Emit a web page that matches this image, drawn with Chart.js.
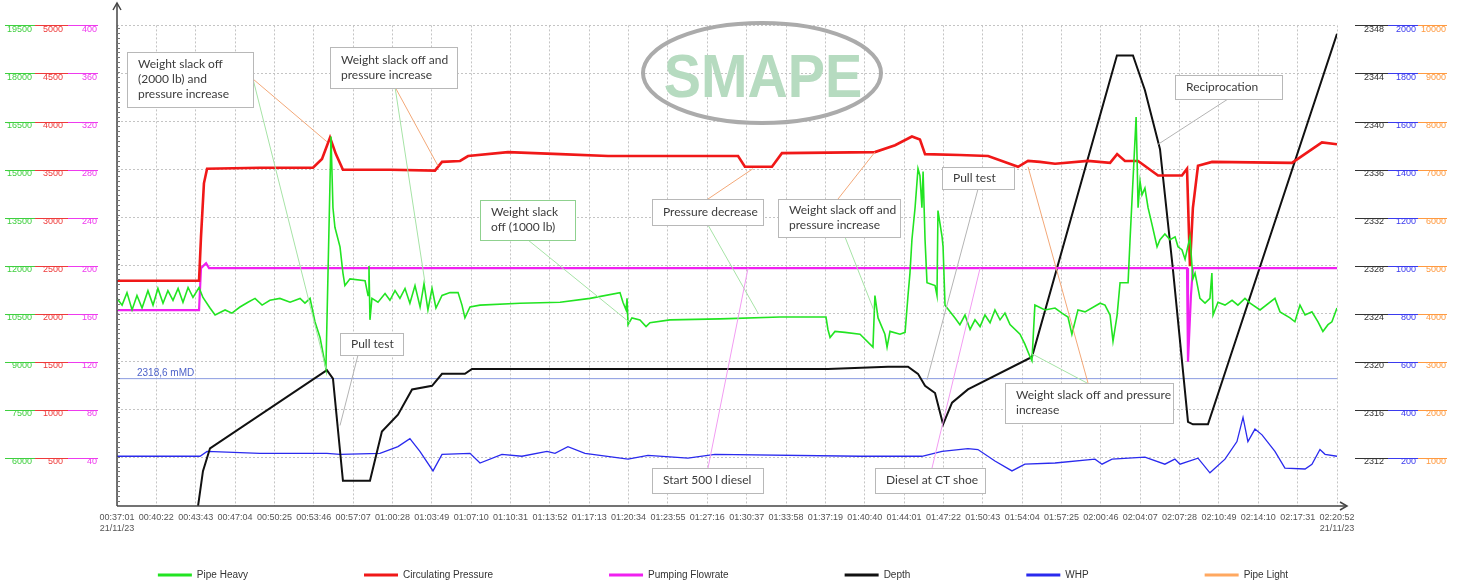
<!DOCTYPE html>
<html><head><meta charset="utf-8">
<script src="https://cdn.jsdelivr.net/npm/chart.js@4.4.1/dist/chart.umd.min.js"></script>
<style>html,body{margin:0;padding:0;background:#fff;}#wrap{width:1460px;height:585px;}</style>
</head><body><div id="wrap"><canvas id="c" width="1460" height="585"></canvas></div>
<script>
// ---------- tick labels ----------
const timeTickLabels = ["00:37:01","00:40:22","00:43:43","00:47:04","00:50:25","00:53:46","00:57:07","01:00:28","01:03:49","01:07:10","01:10:31","01:13:52","01:17:13","01:20:34","01:23:55","01:27:16","01:30:37","01:33:58","01:37:19","01:40:40","01:44:01","01:47:22","01:50:43","01:54:04","01:57:25","02:00:46","02:04:07","02:07:28","02:10:49","02:14:10","02:17:31","02:20:52"];
const dateLabel = "21/11/23";
const pipeHeavyTicks = [6000,7500,9000,10500,12000,13500,15000,16500,18000,19500];
const circPressTicks = [500,1000,1500,2000,2500,3000,3500,4000,4500,5000];
const flowTicks = [40,80,120,160,200,240,280,320,360,400];
const depthTicks = [2312,2316,2320,2324,2328,2332,2336,2340,2344,2348];
const whpTicks = [200,400,600,800,1000,1200,1400,1600,1800,2000];
const pipeLightTicks = [1000,2000,3000,4000,5000,6000,7000,8000,9000,10000];

// ---------- series: [seconds since 00:37:01, value] ----------
const pipeHeavy = [
[0,10980],[26,10770],[51,11160],[77,10620],[102,11070],[128,10680],[158,11220],[184,10770],[209,11290],[235,10830],
[260,11220],[286,10920],[312,11290],[337,10860],[363,11320],[388,11010],[419,11320],[439,11010],[475,10680],[501,10460],
[552,10620],[587,10520],[628,10710],[669,10860],[705,10980],[741,10770],[781,10920],[832,10980],[884,10860],[935,10980],
[960,10830],[986,10980],[1011,10250],[1037,9760],[1067,8790],[1093,16030],[1103,13810],[1113,13200],[1139,12590],[1154,11770],
[1164,11380],[1190,11590],[1267,11530],[1282,11070],[1287,11990],[1292,10310],[1302,10980],[1333,10860],[1369,11130],[1394,10920],
[1420,11220],[1445,10980],[1471,11290],[1496,10830],[1522,11380],[1548,10710],[1568,11440],[1588,10620],[1609,11290],[1629,10680],
[1660,11070],[1701,11160],[1742,11160],[1762,10770],[1777,10370],[1803,10710],[1854,10770],[2058,10830],[2263,10860],[2416,10980],
[2569,11160],[2584,10860],[2600,10620],[2605,10980],[2610,10160],[2630,10370],[2671,10310],[2702,10100],[2722,10220],[2824,10310],
[3080,10340],[3386,10400],[3621,10400],[3631,10010],[3642,9760],[3667,9950],[3718,9920],[3795,9860],[3861,9460],[3871,11070],
[3887,10370],[3922,9860],[3933,9460],[3948,9950],[3999,9860],[4025,9920],[4040,11070],[4050,11770],[4060,12810],[4076,13810],
[4091,15030],[4101,14810],[4111,13810],[4117,14940],[4127,12810],[4137,11470],[4178,11380],[4188,11070],[4193,13720],[4214,12900],
[4219,12590],[4229,10770],[4255,10560],[4280,10370],[4305,10160],[4331,10460],[4357,10010],[4382,10310],[4408,10100],[4433,10460],
[4459,10220],[4484,10620],[4510,10310],[4535,10520],[4561,10160],[4612,9860],[4637,9550],[4663,9160],[4673,9030],[4688,10770],
[4739,10620],[4791,10680],[4826,10520],[4857,10400],[4877,9860],[4908,10620],[4944,10560],[5021,10830],[5046,10770],[5072,10460],
[5087,9640],[5108,10460],[5123,11470],[5164,11470],[5174,12810],[5205,16640],[5210,15330],[5215,13810],[5225,14630],[5235,14210],
[5250,14420],[5266,13810],[5286,13290],[5312,12590],[5327,12810],[5352,12990],[5378,12810],[5404,12900],[5419,12590],[5439,12500],
[5455,12200],[5480,12900],[5495,11590],[5506,11770],[5531,10980],[5557,10830],[5582,10980],[5592,11770],[5598,10460],[5623,10860],
[5659,10770],[5695,10920],[5725,10770],[5761,10980],[5787,10830],[5838,10620],[5914,10980],[5940,10560],[5991,10370],[6016,10250],
[6042,10770],[6068,10460],[6103,10560],[6134,10250],[6159,9950],[6185,10160],[6205,10250],[6231,10680]
];
const circulatingPressure = [
[0,2343],[419,2343],[429,2800],[444,3357],[460,3509],[730,3519],[1001,3519],[1047,3611],[1088,3834],[1118,3661],
[1154,3499],[1394,3499],[1624,3489],[1660,3580],[1752,3590],[1793,3641],[1997,3682],[2263,3661],[2508,3641],[3172,3641],
[3207,3529],[3345,3529],[3396,3671],[3871,3682],[3974,3753],[4060,3844],[4101,3813],[4127,3661],[4305,3651],[4449,3641],
[4602,3529],[4653,3590],[4714,3580],[4791,3560],[4959,3590],[5072,3570],[5108,3661],[5148,3590],[5215,3590],[5317,3438],
[5439,3438],[5465,3509],[5480,2495],[5495,3103],[5521,3540],[5593,3580],[6001,3570],[6154,3783],[6231,3763]
];
const pumpingFlowrate = [
[0,163],[419,163],[429,198],[455,202],[470,198],[5465,198],[5470,120],[5485,175],[5495,198],[6231,198]
];
const depth = [
[414,2308.0],[439,2310.9],[475,2312.8],[1072,2319.3],[1103,2318.6],[1154,2310.1],[1292,2310.1],[1353,2314.2],[1435,2315.6],[1507,2317.7],
[1609,2318.0],[1660,2319.0],[1777,2319.0],[1813,2319.4],[3631,2319.4],[3938,2319.6],[4040,2319.6],[4091,2319.0],[4127,2318.0],[4178,2317.4],
[4219,2314.8],[4265,2316.6],[4346,2317.7],[4673,2320.4],[5107,2345.5],[5189,2345.5],[5250,2342.6],[5327,2337.7],[5393,2327.7],[5470,2315.0],
[5495,2314.8],[5572,2314.8],[6231,2347.3]
];
const whp = [
[0,207],[424,207],[460,227],[730,219],[1072,219],[1139,215],[1343,219],[1435,247],[1496,280],[1547,227],
[1614,146],[1660,215],[1803,219],[1854,179],[1966,215],[2068,207],[2196,227],[2237,219],[2303,247],[2390,219],
[2610,195],[2712,211],[2916,199],[3054,215],[3795,207],[4111,207],[4214,227],[4346,239],[4397,235],[4484,187],
[4571,146],[4637,174],[4791,179],[4995,195],[5031,174],[5082,195],[5250,203],[5352,174],[5403,195],[5429,174],
[5521,199],[5582,138],[5659,195],[5720,268],[5751,369],[5776,268],[5812,320],[5848,296],[5914,227],[5965,158],
[6068,154],[6103,174],[6144,235],[6170,215],[6231,207]
];
const pipeLight = [];

// ---------- annotations ----------
const noteTexts = [
  ["Weight slack off","(2000 lb) and","pressure increase"],
  ["Weight slack off and","pressure increase"],
  ["Weight slack","off (1000 lb)"],
  ["Pressure decrease"],
  ["Weight slack off and","pressure increase"],
  ["Pull test"],
  ["Pull test"],
  ["Start 500 l diesel"],
  ["Diesel at CT shoe"],
  ["Weight slack off and pressure","increase"],
  ["Reciprocation"]
];
const noteBoxes = [
  {x:127,y:52,w:126,h:55},{x:330,y:47,w:127,h:41},{x:480,y:200,w:95,h:40,border:'#8fd18f'},
  {x:652,y:199,w:111,h:26},{x:778,y:199,w:122,h:38},{x:340,y:333,w:63,h:22},{x:942,y:167,w:72,h:22},
  {x:652,y:468,w:111,h:25},{x:875,y:468,w:110,h:25},{x:1005,y:383,w:168,h:40},{x:1175,y:75,w:107,h:24}
];
const OR='#f3a878', GR='#a6e3a6', GY='#b4b4b4', MG='#f29cf2';
const noteLeaders = [
  [{from:[253,79],t:1072,v:3790,axis:'yCP',c:OR},{from:[253,79],t:1067,v:8790,axis:'yPH',c:GR}],
  [{from:[395,87],t:1639,v:3540,axis:'yCP',c:OR},{from:[395,87],t:1573,v:11470,axis:'yPH',c:GR}],
  [{from:[528,240],t:2620,v:10220,axis:'yPH',c:GR}],
  [{from:[708,199],t:3248,v:3509,axis:'yCP',c:OR},{from:[708,225],t:3274,v:10520,axis:'yPH',c:GR}],
  [{from:[838,199],t:3871,v:3682,axis:'yCP',c:OR},{from:[845,237],t:3866,v:10600,axis:'yPH',c:GR}],
  [{from:[358,355],t:1139,v:2314.7,axis:'yD',c:GY}],
  [{from:[978,189],t:4137,v:2318.5,axis:'yD',c:GY}],
  [{from:[708,468],t:3223,v:198,axis:'yPF',c:MG}],
  [{from:[932,468],t:4408,v:198,axis:'yPF',c:MG}],
  [{from:[1088,383],t:4653,v:3529,axis:'yCP',c:OR},{from:[1087,383],t:4673,v:9250,axis:'yPH',c:GR}],
  [{from:[1228,99],t:5317,v:2338.1,axis:'yD',c:GY}]
];
const depthMarker = 2318.6, depthMarkerLabel = "2318,6 mMD";

// ---------- helpers ----------
const TF = "'Liberation Sans', Arial, sans-serif";
const toSec = s => { const p = s.split(':').map(Number); return p[0]*3600+p[1]*60+p[2]; };
const timeTickSec = timeTickLabels.map(l => toSec(l) - toSec(timeTickLabels[0]));
const pts = arr => arr.map(([x,y]) => ({x, y}));

const segSpec = {
  yPH: s => [s.left + 5, s.right],
  yCP: s => [s.left, s.right],
  yPF: s => [s.left, s.left + 30],
  yD:  s => [s.right - 29, s.right + 4],
  yW:  s => [s.left + 4, s.right + 2],
  yPL: s => [s.left + 2, s.right + 1]
};

function yAxis(pos, weight, min, max, ticksArr, color, width, pad) {
  return {
    type:'linear', position:pos, weight, min, max,
    afterBuildTicks: s => { s.ticks = ticksArr.map(v => ({value:v})); },
    afterFit: s => { s.width = width; },
    ticks: { color, font:{family:TF,size:9}, padding:pad, labelOffset:4, crossAlign: pos==='left' ? 'near' : 'far', callback: v => String(v) },
    grid: { display:false, drawTicks:false },
    border: { display:false }
  };
}

const scales = {
  x: {
    type:'linear', min:0, max:timeTickSec[timeTickSec.length-1],
    afterBuildTicks: s => { s.ticks = timeTickSec.map(v => ({value:v})); },
    afterFit: s => { s.height = 49; },
    ticks: { autoSkip:false, maxRotation:0, minRotation:0, padding:6, color:'#555', font:{family:TF,size:9},
      callback: (v, i) => (i === 0 || i === timeTickLabels.length-1) ? [timeTickLabels[i], dateLabel] : timeTickLabels[i] },
    grid: { color:'#c4c4c4', lineWidth:1, drawTicks:false },
    border: { display:false, dash:[2,2] }
  },
  yPH: yAxis('left', 3, 4500, 19500, pipeHeavyTicks, '#3fcf3f', 35, 3),
  yCP: yAxis('left', 2, 0, 5000, circPressTicks, '#ee3a3a', 33, 5),
  yPF: yAxis('left', 1, 0, 400, flowTicks, '#ee3aee', 49, 20),
  yD:  yAxis('right', 1, 2308, 2348, depthTicks, '#333333', 47, 0),
  yW:  yAxis('right', 2, 0, 2000, whpTicks, '#3a3aee', 32, 0),
  yPL: yAxis('right', 3, 0, 10000, pipeLightTicks, '#ff9a40', 30, 0)
};
scales.yPH.grid = { display:true, drawOnChartArea:true, drawTicks:false, color:'#c4c4c4', lineWidth:1 };
scales.yPH.border = { display:false, dash:[2,2] };

function ds(label, data, color, axis, width) {
  return { label, data: pts(data), yAxisID: axis, borderColor: color, backgroundColor: color,
    borderWidth: width, pointRadius: 0, tension: 0, fill: false };
}

const decor = {
  id: 'decor',
  afterLayout(chart) {
    chart.legend.top = 570 - chart.legend.options.labels.padding;
  },
  beforeDatasetsDraw(chart) {
    const ctx = chart.ctx, a = chart.chartArea;
    ctx.save();
    ctx.strokeStyle = '#ababab'; ctx.lineWidth = 4;
    ctx.beginPath(); ctx.ellipse(762, 73, 119, 50, 0, 0, Math.PI*2); ctx.stroke();
    ctx.fillStyle = '#b6dbc0'; ctx.font = "bold 62px " + TF; ctx.textAlign = 'center'; ctx.textBaseline = 'alphabetic';
    ctx.translate(763, 97); ctx.scale(0.9, 1); ctx.fillText('SMAPE', 0, 0);
    ctx.restore();
    const y = chart.scales.yD.getPixelForValue(depthMarker);
    ctx.save();
    ctx.strokeStyle = '#8a9be0'; ctx.lineWidth = 1;
    ctx.beginPath(); ctx.moveTo(a.left, y); ctx.lineTo(a.right, y); ctx.stroke();
    ctx.fillStyle = '#4d62c9'; ctx.font = "10px " + TF; ctx.textAlign = 'left'; ctx.textBaseline = 'alphabetic';
    ctx.fillText(depthMarkerLabel, a.left + 20, y - 3);
    ctx.restore();
  },
  afterDatasetsDraw(chart) {
    const ctx = chart.ctx;
    ctx.save();
    noteLeaders.forEach(list => list.forEach(l => {
      const tx = chart.scales.x.getPixelForValue(l.t), ty = chart.scales[l.axis].getPixelForValue(l.v);
      ctx.strokeStyle = l.c; ctx.lineWidth = 1;
      ctx.beginPath(); ctx.moveTo(l.from[0], l.from[1]); ctx.lineTo(tx, ty); ctx.stroke();
    }));
    noteBoxes.forEach((b, i) => {
      ctx.fillStyle = '#ffffff'; ctx.fillRect(b.x, b.y, b.w, b.h);
      ctx.strokeStyle = b.border || '#b8b8b8'; ctx.lineWidth = 1;
      ctx.strokeRect(b.x + 0.5, b.y + 0.5, b.w, b.h);
      const lines = noteTexts[i];
      ctx.fillStyle = '#3c3c3c'; ctx.font = "12px Lato, " + TF; ctx.textAlign = 'left'; ctx.textBaseline = 'middle';
      lines.forEach((t, k) => ctx.fillText(t, b.x + 11, b.y + b.h/2 + (k - (lines.length-1)/2) * 15));
    });
    ctx.restore();
  },
  afterDraw(chart) {
    const ctx = chart.ctx, a = chart.chartArea;
    ctx.save();
    Object.keys(segSpec).forEach(id => {
      const s = chart.scales[id];
      const [x1, x2] = segSpec[id](s);
      ctx.strokeStyle = s.options.ticks.color; ctx.lineWidth = 1;
      s.ticks.forEach(t => {
        const y = Math.round(s.getPixelForValue(t.value)) + 0.5;
        ctx.beginPath(); ctx.moveTo(x1, y); ctx.lineTo(x2, y); ctx.stroke();
      });
    });
    ctx.strokeStyle = '#444'; ctx.lineWidth = 1.5;
    ctx.beginPath(); ctx.moveTo(a.left, a.bottom); ctx.lineTo(a.left, 3); ctx.stroke();
    ctx.beginPath(); ctx.moveTo(a.left - 4, 10); ctx.lineTo(a.left, 3); ctx.lineTo(a.left + 4, 10); ctx.stroke();
    ctx.beginPath(); ctx.moveTo(a.left, a.bottom); ctx.lineTo(a.right + 10, a.bottom); ctx.stroke();
    ctx.beginPath(); ctx.moveTo(a.right + 3, a.bottom - 4); ctx.lineTo(a.right + 10, a.bottom); ctx.lineTo(a.right + 3, a.bottom + 4); ctx.stroke();
    ctx.lineWidth = 1; ctx.strokeStyle = '#777';
    for (let y = a.bottom; y >= a.top; y -= 4.93) {
      ctx.beginPath(); ctx.moveTo(a.left, Math.round(y) + 0.5); ctx.lineTo(a.left + 3, Math.round(y) + 0.5); ctx.stroke();
    }
    ctx.restore();
  }
};

new Chart(document.getElementById('c'), {
  type: 'line',
  data: { datasets: [
    ds('Pipe Heavy', pipeHeavy, '#22e422', 'yPH', 1.6),
    ds('Circulating Pressure', circulatingPressure, '#f01818', 'yCP', 2.6),
    ds('Pumping Flowrate', pumpingFlowrate, '#f020f0', 'yPF', 2.2),
    ds('Depth', depth, '#111111', 'yD', 2),
    ds('WHP', whp, '#2a2aee', 'yW', 1.3),
    ds('Pipe Light', pipeLight, '#ffa860', 'yPL', 2)
  ]},
  options: {
    responsive: false, animation: false, devicePixelRatio: 1,
    layout: { padding: { top: 13, left: 0, right: 14, bottom: 0 } },
    scales,
    plugins: {
      tooltip: { enabled: false },
      legend: { position: 'bottom', maxHeight: 30,
        labels: { boxWidth: 34, boxHeight: 3, padding: 116, color: '#333', font: { family: TF, size: 10 },
          generateLabels: c => Chart.defaults.plugins.legend.labels.generateLabels(c).map(l => Object.assign(l, { lineWidth: 0 })) } }
    }
  },
  plugins: [decor]
});
</script></body></html>
